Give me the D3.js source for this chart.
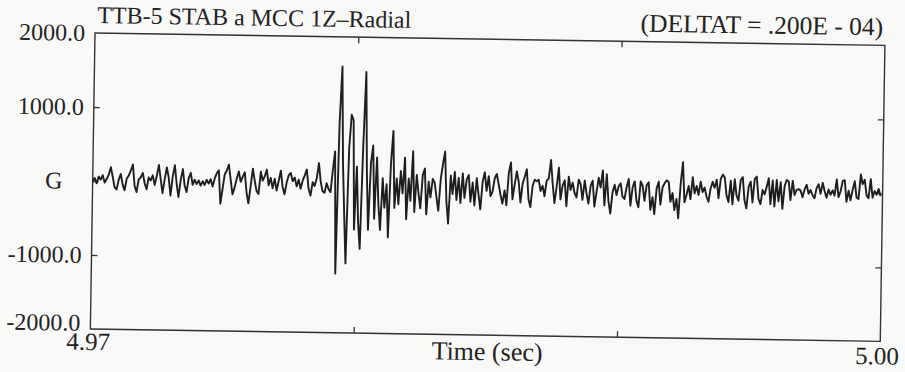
<!DOCTYPE html>
<html>
<head>
<meta charset="utf-8">
<script src="https://cdn.jsdelivr.net/npm/d3@7"></script>
<style>
  html, body { margin: 0; padding: 0; background: #f9f9f7; }
  svg { display: block; }
</style>
</head>
<body>
<div id="chart"></div>
<script>
// signal, one value every ~2 px (units of the y axis)
const quietStart = [0, 40, -30, 60, 20, 80, -20, 30, 90, 190, 60, -80, -110, 20, 100, -40, -120, 40, 80, 150,
  230, -60, -140, 30, 60, 120, -20, -100, 60, 20, 90, -40, 80, 230, 40, -150, 40, 200, 60, -180,
  80, 230, -20, -200, 30, 180, -40, -130, 60, 130, -30, 40, -20, 30, -40, 20, -30, 40, -10, 50,
  -50, 60, 130, 170, -280, -80, 120, 170, 250, 40, -150, -60, 60, 160, 20, 90, 150, -120, -270, -40,
  200, 40, -100, -140, 160, 40, 100, 190, -20, 80, -60, 70, -90, 40, 180, -40, -140, 20, 120, 150];
const eventBurst = [40, 90, -30, 60, -60, 50, 120, 200, -60, -150, 30, -20, 80, 290, 40, -90, -110, 20, -60, -100,
  200, 450, -1200, 830, 1600, 300, -400, -1060, 500, 950, 880, -600, 250, -500, -860, 520, 1530, 200, -600, 300,
  540, -450, 380, -250, -600, 100, -300, 20, -700, 300, 740, -300, 100, -250, 200, -100, 380, -450, 100, -200,
  470, -350, 150, -100, -300, 150, 240, -380, 60, -150, 100, 50, -150, -330, 100, 300, 470, -200, -500, 150,
  -100, 200, -180, 120, -220, 180, -150, 100, 160, -200, 60, -250, 120, -100, -300, 80, 200, -50];
const codaMid = [150, -120, -60, 120, 180, 40, -100, -220, -40, -240, 200, 340, -160, 40, 220, 80, -200, 60, 150, 250,
  -150, -260, 30, 110, 90, 110, -40, 30, -110, 100, 130, 380, 60, -200, 20, 280, -150, 40, 110, -240,
  160, -20, 80, -60, -120, 120, 60, -150, 110, -60, -200, 40, 110, -240, -40, 150, 20, 250, -220, 200,
  -160, -330, -40, 60, -80, 40, 80, -100, -130, 30, 140, -220, 30, 110, -150, -240, 110, 50, -150, 60,
  100, -270, -100, -330, 20, 110, -200, 40, 90, 130, 110, -160, -40, -270, -120, -380, 90, 380, -160, -60];
const codaEnd = [60, -120, 180, -40, 60, -60, 120, -20, 40, -80, -150, 30, 120, 40, 150, -100, 160, 220, 180, -60,
  -150, 140, -180, 160, -60, -130, 150, 190, -120, -230, 60, 130, -150, 170, 200, -100, -170, 20, -40, 60,
  180, -170, 150, -200, 160, -130, 130, -230, 80, 160, 140, -110, 150, -40, 30, 40, 20, -70, 40, 100,
  -20, 30, -40, -80, 60, 110, -20, 130, 20, -70, 40, -30, 30, -40, 180, -60, 20, 160, 170, -120,
  30, -100, 40, 160, -60, -80, 250, 120, 180, -30, -70, 190, -60, 30, -20, 60, -40];

const T_START = 4.97;
const SAMPLE_STEP = 0.03 / 395;
const yTicks = [2000, 1000, 0, -1000, -2000];
const yTickLabels = ["2000.0", "1000.0", "G", "-1000.0", "-2000.0"];
const xTicks = [4.97, 4.98, 4.99, 5.00];
const xTickLabels = ["4.97", "", "", "5.00"];
const title = "TTB-5 STAB a MCC 1Z\u2013Radial";
const note = "(DELTAT = .200E - 04)";
const xTitle = "Time (sec)";

const W = 905, H = 372;
const plotL = 95, plotR = 885, plotT = 33, plotB = 329;
const FONT = "'Liberation Serif', 'DejaVu Serif', Times, serif";

const signal = [].concat(quietStart, eventBurst, codaMid, codaEnd)
  .map((v, i) => ({ t: T_START + i * SAMPLE_STEP, v: v }));

const svg = d3.select("#chart").append("svg")
  .attr("width", W).attr("height", H)
  .attr("font-family", FONT);

// the scanned page sits slightly rotated
const g = svg.append("g").attr("transform", `rotate(0.9, ${plotL}, ${plotT})`);

const x = d3.scaleLinear().domain([4.97, 5.00]).range([plotL, plotR]);
const y = d3.scaleLinear().domain([-2000, 2000]).range([plotB, plotT]);

const inner = yTicks.filter(v => v > -2000 && v < 2000);
const innerX = xTicks.filter(v => v > 4.97 && v < 5.0);

g.append("g").attr("transform", `translate(${plotL},0)`)
  .call(d3.axisLeft(y).tickValues(inner).tickSize(-6).tickFormat(""));
g.append("g").attr("transform", `translate(${plotR},0)`)
  .call(d3.axisRight(y).tickValues(inner).tickSize(-6).tickFormat(""));
g.append("g").attr("transform", `translate(0,${plotB})`)
  .call(d3.axisBottom(x).tickValues(innerX).tickSize(-6).tickFormat(""));
g.append("g").attr("transform", `translate(0,${plotT})`)
  .call(d3.axisTop(x).tickValues(innerX).tickSize(-6).tickFormat(""));
g.selectAll(".domain").remove();
g.selectAll(".tick line").attr("stroke", "#333").attr("stroke-width", 1.3);

g.append("rect")
  .attr("x", plotL).attr("y", plotT)
  .attr("width", plotR - plotL).attr("height", plotB - plotT)
  .attr("fill", "none").attr("stroke", "#333").attr("stroke-width", 1.4);

const line = d3.line().x(d => x(d.t)).y(d => y(d.v));
g.append("path").datum(signal)
  .attr("d", line)
  .attr("fill", "none")
  .attr("stroke", "#1e1e1e")
  .attr("stroke-width", 1.9)
  .attr("stroke-linejoin", "round");

const txt = sel => sel.attr("font-family", FONT).attr("fill", "#222");

// y labels
g.selectAll(".ylab").data(yTicks).enter().append("text")
  .attr("class", "ylab")
  .attr("x", (d, i) => yTickLabels[i] === "G" ? 56 : 85)
  .attr("y", d => y(d) + (d === -2000 ? 2 : 8))
  .attr("text-anchor", (d, i) => yTickLabels[i] === "G" ? "middle" : "end")
  .attr("font-size", 24)
  .call(txt)
  .text((d, i) => yTickLabels[i]);

// x labels
g.selectAll(".xlab").data(xTicks.filter((d, i) => xTickLabels[i])).enter().append("text")
  .attr("class", "xlab")
  .attr("x", d => x(d) - (d === 4.97 ? 2 : 3))
  .attr("y", d => d === 4.97 ? 350 : 352)
  .attr("text-anchor", "middle")
  .attr("font-size", 25)
  .call(txt)
  .text(d => xTickLabels[xTicks.indexOf(d)]);

g.append("text").attr("x", 492).attr("y", 354)
  .attr("text-anchor", "middle").attr("font-size", 26).call(txt).text(xTitle);

g.append("text").attr("x", 97).attr("y", 23)
  .attr("font-size", 24).call(txt).text(title);

g.append("text").attr("x", 883).attr("y", 23)
  .attr("text-anchor", "end").attr("font-size", 25.5).call(txt).text(note);
</script>
</body>
</html>
